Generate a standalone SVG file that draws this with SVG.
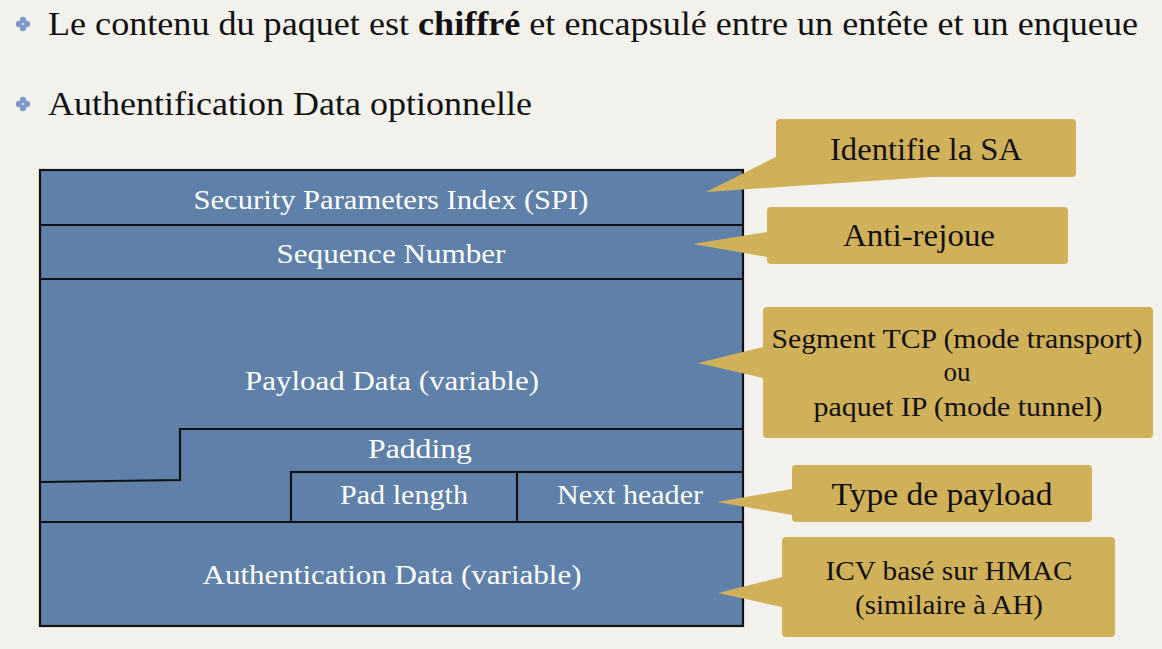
<svg xmlns="http://www.w3.org/2000/svg" width="1162" height="649" viewBox="0 0 1162 649" font-family="Liberation Serif, serif">
<style>
.head{font-size:33px;fill:#111}
.cell{font-size:27px;fill:#fff;text-anchor:middle}
.call{fill:#111;text-anchor:middle}
.ln{stroke:#111;stroke-width:2.2;fill:none}
.box{stroke:#111;stroke-width:2.2;fill:#5F80A8}
.bubble{fill:#D1B05A}
.bul{fill:#7C9DCB}
</style>
<defs>
<g id="bullet">
<circle cx="0" cy="-4" r="3.2"/><circle cx="0" cy="4" r="3.2"/><circle cx="-4" cy="0" r="3.2"/><circle cx="4" cy="0" r="3.2"/>
</g>
</defs>
<rect width="1162" height="649" fill="#F3F1EC"/>
<g id="bullets" class="bul">
<use href="#bullet" x="23" y="24"/>
<use href="#bullet" x="23" y="104"/>
</g>
<g id="heading">
<text class="head" x="48" y="35" textLength="1090" lengthAdjust="spacingAndGlyphs">Le contenu du paquet est <tspan font-weight="bold">chiffré</tspan> et encapsulé entre un entête et un enqueue</text>
<text class="head" x="48" y="115" textLength="484" lengthAdjust="spacingAndGlyphs">Authentification Data optionnelle</text>
</g>
<g id="packet">
<rect x="40" y="170" width="703" height="456" class="box"/>
<line class="ln" x1="40" y1="225" x2="743" y2="225"/>
<line class="ln" x1="40" y1="279" x2="743" y2="279"/>
<polyline class="ln" points="743,429 180,429 180,480 40,482"/>
<polyline class="ln" points="743,472 291,472 291,522"/>
<line class="ln" x1="517" y1="472" x2="517" y2="522"/>
<line class="ln" x1="40" y1="522" x2="743" y2="522"/>
</g>
<g id="spi"><text class="cell" x="391" y="209" textLength="395" lengthAdjust="spacingAndGlyphs">Security Parameters Index (SPI)</text></g>
<g id="seq"><text class="cell" x="391" y="263" textLength="229" lengthAdjust="spacingAndGlyphs">Sequence Number</text></g>
<g id="payload"><text class="cell" x="392" y="390" textLength="294" lengthAdjust="spacingAndGlyphs">Payload Data (variable)</text></g>
<g id="padding"><text class="cell" x="420" y="458" textLength="104" lengthAdjust="spacingAndGlyphs">Padding</text></g>
<g id="padlen"><text class="cell" x="404" y="504" textLength="128" lengthAdjust="spacingAndGlyphs">Pad length</text></g>
<g id="nexthdr"><text class="cell" x="630" y="504" textLength="146" lengthAdjust="spacingAndGlyphs">Next header</text></g>
<g id="auth"><text class="cell" x="392" y="584" textLength="379" lengthAdjust="spacingAndGlyphs">Authentication Data (variable)</text></g>
<g id="connectors">
<path class="bubble" d="M780,119 H1072 Q1076,119 1076,123 V173 Q1076,177 1072,177 H930 L706,192 L776,157 V123 Q776,119 780,119 Z"/>
<path class="bubble" d="M771,207 H1064 Q1068,207 1068,211 V260 Q1068,264 1064,264 H771 Q767,264 767,260 V257 L693,244 L767,232 V211 Q767,207 771,207 Z"/>
<path class="bubble" d="M767,307 H1149 Q1153,307 1153,311 V434 Q1153,438 1149,438 H767 Q763,438 763,434 V378 L698,363 L763,347 V311 Q763,307 767,307 Z"/>
<path class="bubble" d="M796,465 H1088 Q1092,465 1092,469 V518 Q1092,522 1088,522 H796 Q792,522 792,518 V515 L717,502 L792,489 V469 Q792,465 796,465 Z"/>
<path class="bubble" d="M786,537 H1111 Q1115,537 1115,541 V633 Q1115,637 1111,637 H786 Q782,637 782,633 V607 L718,593 L782,577 V541 Q782,537 786,537 Z"/>
</g>
<g id="c-sa"><text class="call" x="926" y="160" font-size="32" textLength="192" lengthAdjust="spacingAndGlyphs">Identifie la SA</text></g>
<g id="c-anti"><text class="call" x="919" y="246" font-size="32" textLength="152" lengthAdjust="spacingAndGlyphs">Anti-rejoue</text></g>
<g id="c-seg">
<text class="call" x="957" y="348" font-size="27" textLength="371" lengthAdjust="spacingAndGlyphs">Segment TCP (mode transport)</text>
<text class="call" x="957" y="381" font-size="27">ou</text>
<text class="call" x="958" y="416" font-size="27" textLength="289" lengthAdjust="spacingAndGlyphs">paquet IP (mode tunnel)</text>
</g>
<g id="c-type"><text class="call" x="942" y="505" font-size="32" textLength="221" lengthAdjust="spacingAndGlyphs">Type de payload</text></g>
<g id="c-icv">
<text class="call" x="949" y="580" font-size="27" textLength="247" lengthAdjust="spacingAndGlyphs">ICV basé sur HMAC</text>
<text class="call" x="949" y="614" font-size="27" textLength="188" lengthAdjust="spacingAndGlyphs">(similaire à AH)</text>
</g>
</svg>
